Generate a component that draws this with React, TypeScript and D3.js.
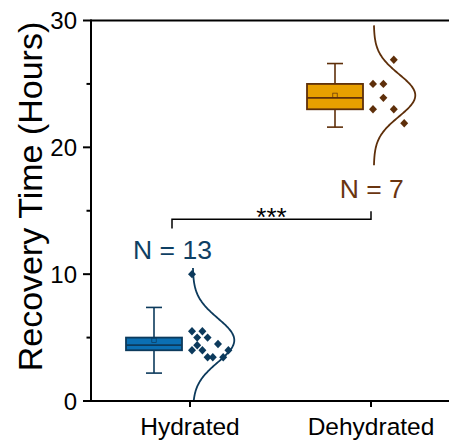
import React from "react";
import * as d3 from "d3";

// Recovery time samples (hours) for each group
const categories = ["Hydrated", "Dehydrated"];
const hydrated = [5.5, 5.5, 5.0, 5.0, 4.4, 4.0, 4.0, 4.5, 3.45, 3.45, 4.0, 3.45, 10.0];
const dehydrated = [26.9, 25.0, 25.0, 23.9, 23.0, 23.0, 21.9];
// jitter column for each sample in the scatter strip
const hydratedJitter = [0, 2, 1, 3, 1, 0, 2, 5, 3, 4, 7, 6, 0];
const dehydratedJitter = [4, 0, 2, 2, 0, 4, 6];
const yTicks = [0, 10, 20, 30];
const yMinorTicks = [5, 15, 25];
const significance = "***";

const W = 449;
const H = 445;
const left = 91;
const right = 449;
const top = 20.5;
const bottom = 401;

const groups = [
  { name: categories[0], values: hydrated, jitter: hydratedJitter, fill: "#0b6fb3", stroke: "#0c3a5c", label: "#0e3f63" },
  { name: categories[1], values: dehydrated, jitter: dehydratedJitter, fill: "#e8a000", stroke: "#5e2f0a", label: "#6a3510" },
];

export default function App() {
  const x = d3.scalePoint<string>().domain(categories).range([190, 371]);
  const y = d3.scaleLinear().domain([0, 30]).range([bottom, top]);
  const font = "Liberation Sans, Arial, sans-serif";

  const boxOffset = -36;
  const boxW = 56;
  const capW = 16;
  const curveOffset = 2.8;
  const curveW = 41.5;

  const diamond = (cx: number, cy: number, r: number) =>
    `M${cx},${cy - r}L${cx + r * 0.95},${cy}L${cx},${cy + r}L${cx - r * 0.95},${cy}Z`;

  return (
    <svg width={W} height={H} style={{ position: "absolute", left: 0, top: 0 }}>
      <defs>
        <clipPath id="plot">
          <rect x={left} y={top} width={right - left} height={bottom - top} />
        </clipPath>
      </defs>

      {groups.map((g) => {
        const cx = x(g.name)!;
        const sorted = [...g.values].sort(d3.ascending);
        const q1 = d3.quantile(sorted, 0.25)!;
        const med = d3.quantile(sorted, 0.5)!;
        const q3 = d3.quantile(sorted, 0.75)!;
        const mean = d3.mean(sorted)!;
        const sd = d3.deviation(sorted)!;
        const wHi = mean + 1.5 * sd;
        const wLo = mean - 1.5 * sd;
        const bx = cx + boxOffset;

        const zs = d3.range(-3.3, 3.3001, 0.05);
        const base = cx + curveOffset;
        const curve = d3
          .line<number>()
          .x((z) => base + curveW * Math.exp(-0.5 * z * z))
          .y((z) => y(mean + z * sd))
          .curve(d3.curveBasis)(zs)!;

        return (
          <g key={g.name}>
            {/* whiskers */}
            <line x1={bx} x2={bx} y1={y(wHi)} y2={y(q3)} stroke={g.stroke} strokeWidth={1.6} />
            <line x1={bx} x2={bx} y1={y(q1)} y2={y(wLo)} stroke={g.stroke} strokeWidth={1.6} />
            <line x1={bx - capW / 2} x2={bx + capW / 2} y1={y(wHi)} y2={y(wHi)} stroke={g.stroke} strokeWidth={1.6} />
            <line x1={bx - capW / 2} x2={bx + capW / 2} y1={y(wLo)} y2={y(wLo)} stroke={g.stroke} strokeWidth={1.6} />
            {/* box */}
            <rect x={bx - boxW / 2} y={y(q3)} width={boxW} height={y(q1) - y(q3)} fill={g.fill} stroke={g.stroke} strokeWidth={1.8} />
            <line x1={bx - boxW / 2} x2={bx + boxW / 2} y1={y(med)} y2={y(med)} stroke={g.stroke} strokeWidth={1.8} />
            <rect x={bx - 2.2} y={y(mean) - 2.2} width={4.4} height={4.4} fill="none" stroke={g.stroke} strokeWidth={0.7} />
            {/* points */}
            {g.values.map((v, i) => (
              <path key={i} d={diamond(cx + 2 + g.jitter[i] * 5.2, y(v), 4.2)} fill={g.stroke} />
            ))}
            {/* normal curve */}
            <path d={curve} fill="none" stroke={g.stroke} strokeWidth={1.8} clipPath="url(#plot)" />
          </g>
        );
      })}

      {/* N labels */}
      <text x={172.5} y={259} textAnchor="middle" fontFamily={font} fontSize={26.5} fill={groups[0].label}>
        N = {hydrated.length}
      </text>
      <text x={371.7} y={197.5} textAnchor="middle" fontFamily={font} fontSize={26.5} fill={groups[1].label}>
        N = {dehydrated.length}
      </text>

      {/* significance bracket */}
      <path
        d={`M${x(categories[0])! - 18},${y(13.6)}V${y(14.33)}H${x(categories[1])!}V${y(14.97)}`}
        fill="none"
        stroke="#000"
        strokeWidth={1.5}
      />
      <text x={(x(categories[0])! - 18 + x(categories[1])!) / 2} y={226} textAnchor="middle" fontFamily={font} fontSize={26} fill="#000">
        {significance}
      </text>

      {/* axes */}
      <line x1={left} x2={right} y1={top} y2={top} stroke="#000" strokeWidth={2} />
      <line x1={left} x2={right} y1={bottom} y2={bottom} stroke="#000" strokeWidth={2} />
      <line x1={left} x2={left} y1={top - 1} y2={bottom + 1} stroke="#000" strokeWidth={2} />
      {yTicks.map((t) => (
        <g key={t}>
          <line x1={left - 8} x2={left} y1={y(t)} y2={y(t)} stroke="#000" strokeWidth={2} />
          <text x={77} y={y(t)} dy="0.36em" textAnchor="end" fontFamily={font} fontSize={24} fill="#000">
            {t}
          </text>
        </g>
      ))}
      {yMinorTicks.map((t) => (
        <line key={t} x1={left - 4.5} x2={left} y1={y(t)} y2={y(t)} stroke="#000" strokeWidth={2} />
      ))}
      {categories.map((c) => (
        <g key={c}>
          <line x1={x(c)!} x2={x(c)!} y1={bottom} y2={bottom + 6} stroke="#000" strokeWidth={2} />
          <text x={x(c)!} y={435} textAnchor="middle" fontFamily={font} fontSize={24.5} fill="#000">
            {c}
          </text>
        </g>
      ))}
      <text transform={`translate(42,196.5) rotate(-90)`} textAnchor="middle" fontFamily={font} fontSize={34} fill="#000">
        Recovery Time (Hours)
      </text>
    </svg>
  );
}
